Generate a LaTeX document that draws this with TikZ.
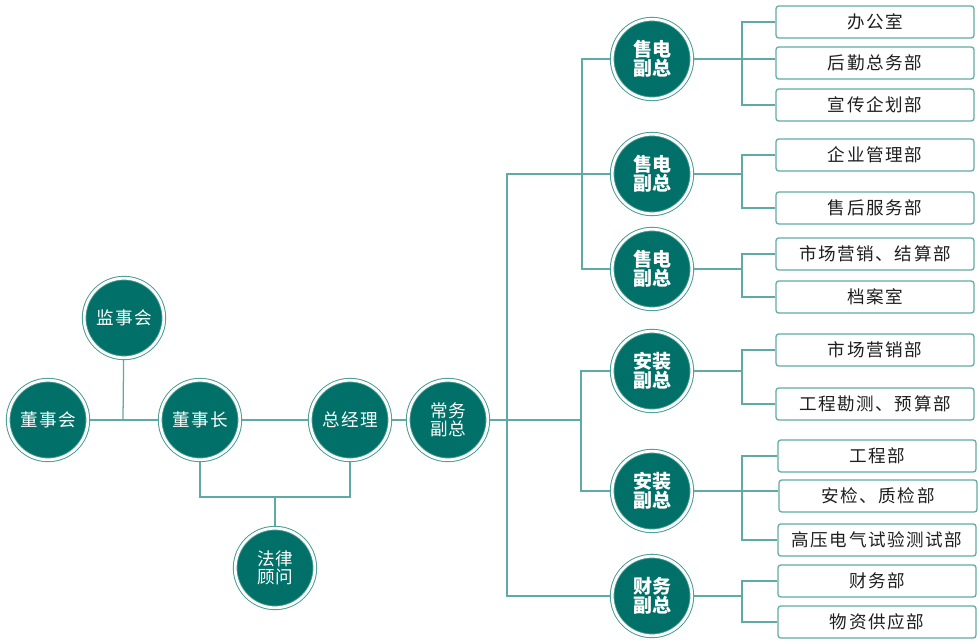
\documentclass[tikz,border=0pt]{standalone}
\usepackage{fontspec}
\setmainfont{Noto Sans CJK SC}
\newfontfamily\widecjk[LetterSpace=9]{Noto Sans CJK SC}
\usetikzlibrary{calc}

\definecolor{tealdark}{RGB}{0,112,104}
\definecolor{tealring}{RGB}{60,150,140}
\definecolor{tealline}{RGB}{95,170,165}
\definecolor{boxtext}{RGB}{30,30,30}

\begin{document}
\begin{tikzpicture}[x=0.025cm, y=-0.025cm,
        every node/.style={inner sep=0pt},
        post/.style={circle, fill=tealdark, draw=tealring, double=white,
              line width=0.65pt, double distance=2pt, outer sep=1.65pt,
              minimum size=1.99cm, text=white, align=center,
              font=\widecjk\fontsize{12.5}{13}\selectfont},
        vpost/.style={post, font=\fontsize{13.5}{13.5}\selectfont\bfseries},
        dept/.style={draw=tealline, line width=0.9pt, rounded corners=2pt,
              minimum width=4.95cm, minimum height=0.8cm, text=boxtext,
              font=\widecjk\fontsize{12.5}{13}\selectfont},
        link/.style={draw=tealline, line width=0.9pt}]
        \useasboundingbox (0,0) rectangle (980,644);
        %% dirección
        \node[post] (jsh) at (124,318) {监事会};
        \node[post] (dsh) at (48,420)  {董事会};
        \node[post] (dsz) at (200,420) {董事长};
        \node[post] (zjl) at (350,420) {总经理};
        \node[post, font=\fontsize{12.5}{12.5}\selectfont] (cwf) at (448,420) {常务\\副总};
        \node[post, font=\fontsize{12.5}{12.5}\selectfont] (flgw) at (275,568) {法律\\顾问};
        \coordinate (jA) at (123,420);
        \coordinate (jB) at (275,497);
        %% vicepresidentes
        \node[vpost] (sd1) at (652,59)  {售电\\副总};
        \node[vpost] (sd2) at (652,174) {售电\\副总};
        \node[vpost] (sd3) at (652,269) {售电\\副总};
        \node[vpost] (az1) at (652,371) {安装\\副总};
        \node[vpost] (az2) at (652,491) {安装\\副总};
        \node[vpost] (cw)  at (652,596) {财务\\副总};
        \coordinate (tr)  at (507,420);
        \coordinate (ksd) at (582,174);
        \coordinate (kaz) at (581,420);
        %% departamentos
        \node[dept] (bgs) at (875,22)  {办公室};
        \node[dept] (hq)  at (875,63)  {后勤总务部};
        \node[dept] (xc)  at (875,105) {宣传企划部};
        \node[dept] (qy)  at (875,155) {企业管理部};
        \node[dept] (sh)  at (875,208) {售后服务部};
        \node[dept] (scj) at (875,254) {市场营销、结算部};
        \node[dept] (da)  at (875,297) {档案室};
        \node[dept] (sc)  at (875,350) {市场营销部};
        \node[dept] (kc)  at (875,404) {工程勘测、预算部};
        \node[dept] (gc)  at (877,456) {工程部};
        \node[dept] (aj)  at (878,496) {安检、质检部};
        \node[dept] (gy)  at (877,540) {高压电气试验测试部};
        \node[dept] (cwb) at (877,581) {财务部};
        \node[dept] (wz)  at (877,622) {物资供应部};
        \coordinate (g1) at (742,59);
        \coordinate (g2) at (742,174);
        \coordinate (g3) at (742,269);
        \coordinate (g4) at (742,371);
        \coordinate (g5) at (742,491);
        \coordinate (g6) at (742,596);
        %% lineas izquierda
        \draw[link] (dsh) -- (dsz);
        \draw[link] (jsh) -- (jA);
        \draw[link] (dsz) -- (zjl);
        \draw[link] (zjl) -- (cwf);
        \draw[link] (dsz.south) |- (jB) -| (zjl.south);
        \draw[link] (jB) -- (flgw);
        %% tronco
        \draw[link] (cwf) -- (tr);
        \draw[link] (sd2) -| (tr) |- (cw);
        \draw[link] (sd1) -| (ksd) |- (sd3);
        \draw[link] (tr) -- (kaz);
        \draw[link] (az1) -| (kaz) |- (az2);
        %% ramas a departamentos
        \draw[link] (sd1) -- (sd1 -| hq.west);
        \draw[link] (bgs) -| (g1) |- (xc);
        \draw[link] (sd2) -- (g2);
        \draw[link] (qy) -| (g2) |- (sh);
        \draw[link] (sd3) -- (g3);
        \draw[link] (scj) -| (g3) |- (da);
        \draw[link] (az1) -- (g4);
        \draw[link] (sc) -| (g4) |- (kc);
        \draw[link] (az2) -- (az2 -| aj.west);
        \draw[link] (gc) -| (g5) |- (gy);
        \draw[link] (cw) -- (g6);
        \draw[link] (cwb) -| (g6) |- (wz);
\end{tikzpicture}
\end{document}
